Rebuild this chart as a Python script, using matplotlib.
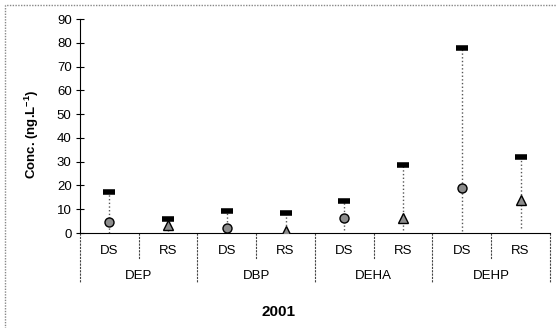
import matplotlib.pyplot as plt
from matplotlib.patches import Rectangle
import matplotlib.transforms as mtransforms

plt.rcParams['font.family'] = ['Liberation Sans', 'DejaVu Sans']
plt.rcParams['mathtext.fontset'] = 'custom'
plt.rcParams['mathtext.rm'] = 'Liberation Sans'
plt.rcParams['mathtext.bf'] = 'Liberation Sans:bold'

# data
compounds = ['DEP', 'DBP', 'DEHA', 'DEHP']
sites = ['DS', 'RS']
means = [4.8, 3.5, 2.1, 0.8, 6.3, 6.2, 19, 13.9]
mins = [0, 1, 0, 0, 1.1, 1.1, 0.7, 2.1]
maxs = [17.4, 5.8, 9.3, 8.3, 13.5, 28.8, 78, 32]
year = '2001'

fig = plt.figure(figsize=(5.57, 3.28), dpi=100)
ax = fig.add_axes([0.1436, 0.2896, 0.8438, 0.6524])

pos = list(range(len(means)))
ax.vlines(pos, mins, maxs, colors='#555555', linestyles=':', lw=1, zorder=1)
# max values drawn as small black bars
ax.plot(pos, maxs, ls='none', marker='_', ms=9, mew=4, color='black', zorder=3)
for i, m in enumerate(means):
    mk = 'o' if i % 2 == 0 else '^'
    ax.plot(i, m, ls='none', marker=mk, ms=6.5, mfc='#8c8c8c', mec='black', mew=1, zorder=4)

ax.set_xlim(-0.5, len(means) - 0.5)
ax.set_ylim(0, 90)
ax.set_yticks(range(0, 91, 10))
ax.tick_params(axis='y', direction='inout', length=6, width=0.8, labelsize=9.5, pad=3)
ax.set_xticks([])
for s in ['top', 'right']:
    ax.spines[s].set_visible(False)
ax.spines['left'].set_linewidth(0.8)
ax.spines['bottom'].set_linewidth(0.8)
ax.set_ylabel('Conc. (ng.L$^{\\mathbf{-1}}$)', fontsize=9.5, fontweight='bold')
ax.yaxis.set_label_coords(-0.082, 0.463)

trans = mtransforms.blended_transform_factory(ax.transData, ax.transAxes)
for i in pos:
    ax.text(i, -0.084, sites[i % 2], transform=trans, ha='center', va='center', fontsize=9.5)
for g, name in enumerate(compounds):
    ax.text(2 * g + 0.5, -0.201, name, transform=trans, ha='center', va='center', fontsize=9.5)
for i in range(len(means) + 1):
    x = i - 0.5
    y0 = -0.2336 if i % 2 == 0 else -0.1215
    ax.plot([x, x], [0, y0], transform=trans, color='#444444', lw=0.8, ls=(0, (2, 1)), clip_on=False)

fig.text(0.5, 0.049, year, ha='center', va='center', fontsize=11, fontweight='bold')

fig.patches.append(Rectangle((0.009, -0.1), 1.2, 1.085, transform=fig.transFigure,
                             fill=False, ec='#888888', lw=1, ls=(0, (1, 1))))

fig.savefig('out.png', dpi=100)
